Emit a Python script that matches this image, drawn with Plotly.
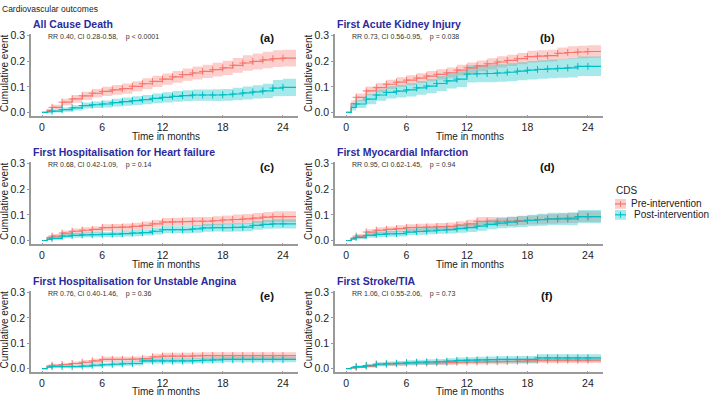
import plotly.graph_objects as go

W, H = 709, 398

time = [0, 0.5, 1, 2, 3, 4, 5, 6, 7, 8, 9, 10, 11, 12, 13, 14, 15, 16, 17, 18, 19, 20, 21, 22, 23, 24, 25.3]

panel_titles = ["All Cause Death", "First Acute Kidney Injury", "First Hospitalisation for Heart failure",
                "First Myocardial Infarction", "First Hospitalisation for Unstable Angina", "First Stroke/TIA"]
panel_tags = ["(a)", "(b)", "(c)", "(d)", "(e)", "(f)"]
panel_stats = ["RR 0.40, CI 0.28-0.58,    p < 0.0001", "RR 0.73, CI 0.56-0.95,    p = 0.038",
               "RR 0.68, CI 0.42-1.09,    p = 0.14", "RR 0.95, CI 0.62-1.45,    p = 0.94",
               "RR 0.76, CI 0.40-1.46,    p = 0.36", "RR 1.06, CI 0.55-2.06,    p = 0.73"]

a_pre = [0, 0.008, 0.02, 0.04, 0.053, 0.065, 0.075, 0.082, 0.088, 0.093, 0.102, 0.112, 0.121, 0.13, 0.139, 0.148, 0.154, 0.16, 0.167, 0.174, 0.184, 0.193, 0.199, 0.205, 0.21, 0.212, 0.212]
a_pre_ci = [0, 0.006, 0.01, 0.013, 0.015, 0.016, 0.017, 0.018, 0.019, 0.02, 0.02, 0.021, 0.022, 0.022, 0.023, 0.024, 0.025, 0.026, 0.027, 0.028, 0.029, 0.03, 0.031, 0.032, 0.033, 0.033, 0.033]
a_post = [0, 0.002, 0.005, 0.011, 0.018, 0.027, 0.03, 0.033, 0.038, 0.042, 0.046, 0.05, 0.055, 0.059, 0.063, 0.066, 0.068, 0.068, 0.068, 0.069, 0.072, 0.076, 0.08, 0.084, 0.095, 0.098, 0.098]
a_post_ci = [0, 0.003, 0.005, 0.008, 0.01, 0.012, 0.013, 0.014, 0.015, 0.016, 0.017, 0.018, 0.019, 0.02, 0.021, 0.021, 0.022, 0.022, 0.023, 0.023, 0.024, 0.025, 0.026, 0.028, 0.032, 0.034, 0.034]

b_pre = [0, 0.035, 0.059, 0.084, 0.097, 0.11, 0.118, 0.126, 0.134, 0.142, 0.149, 0.155, 0.165, 0.174, 0.182, 0.19, 0.197, 0.203, 0.21, 0.218, 0.22, 0.222, 0.231, 0.234, 0.236, 0.238, 0.238]
b_pre_ci = [0, 0.012, 0.015, 0.017, 0.018, 0.018, 0.019, 0.019, 0.019, 0.02, 0.02, 0.02, 0.021, 0.021, 0.021, 0.022, 0.022, 0.022, 0.022, 0.023, 0.023, 0.023, 0.023, 0.024, 0.024, 0.024, 0.024]
b_post = [0, 0.02, 0.033, 0.052, 0.068, 0.078, 0.083, 0.088, 0.096, 0.103, 0.113, 0.123, 0.13, 0.15, 0.151, 0.152, 0.154, 0.157, 0.161, 0.165, 0.168, 0.17, 0.172, 0.174, 0.18, 0.18, 0.18]
b_post_ci = [0, 0.012, 0.016, 0.02, 0.022, 0.024, 0.025, 0.026, 0.027, 0.028, 0.029, 0.03, 0.031, 0.033, 0.033, 0.034, 0.034, 0.035, 0.035, 0.036, 0.036, 0.037, 0.037, 0.038, 0.038, 0.038, 0.038]

c_pre = [0, 0.011, 0.017, 0.029, 0.036, 0.04, 0.043, 0.05, 0.051, 0.052, 0.055, 0.059, 0.065, 0.072, 0.073, 0.074, 0.075, 0.075, 0.077, 0.08, 0.082, 0.084, 0.087, 0.091, 0.093, 0.093, 0.093]
c_pre_ci = [0, 0.006, 0.008, 0.01, 0.011, 0.012, 0.012, 0.013, 0.013, 0.014, 0.014, 0.015, 0.015, 0.016, 0.016, 0.017, 0.017, 0.017, 0.018, 0.018, 0.019, 0.019, 0.02, 0.02, 0.021, 0.021, 0.021]
c_post = [0, 0.004, 0.008, 0.017, 0.02, 0.022, 0.023, 0.024, 0.025, 0.027, 0.029, 0.031, 0.036, 0.042, 0.042, 0.042, 0.045, 0.049, 0.05, 0.05, 0.051, 0.052, 0.059, 0.063, 0.065, 0.065, 0.065]
c_post_ci = [0, 0.004, 0.006, 0.008, 0.009, 0.009, 0.01, 0.01, 0.011, 0.011, 0.012, 0.012, 0.013, 0.014, 0.014, 0.014, 0.015, 0.015, 0.015, 0.016, 0.016, 0.016, 0.017, 0.017, 0.018, 0.018, 0.018]

d_pre = [0, 0.008, 0.017, 0.033, 0.04, 0.043, 0.046, 0.05, 0.051, 0.052, 0.054, 0.055, 0.06, 0.065, 0.075, 0.075, 0.075, 0.075, 0.078, 0.08, 0.082, 0.084, 0.086, 0.088, 0.093, 0.093, 0.093]
d_pre_ci = [0, 0.005, 0.008, 0.011, 0.012, 0.012, 0.013, 0.013, 0.014, 0.014, 0.014, 0.015, 0.015, 0.016, 0.017, 0.017, 0.017, 0.018, 0.018, 0.018, 0.019, 0.019, 0.019, 0.02, 0.021, 0.021, 0.021]
d_post = [0, 0.006, 0.012, 0.02, 0.024, 0.026, 0.027, 0.033, 0.035, 0.037, 0.04, 0.042, 0.046, 0.05, 0.056, 0.063, 0.068, 0.072, 0.075, 0.078, 0.081, 0.084, 0.084, 0.084, 0.093, 0.093, 0.093]
d_post_ci = [0, 0.004, 0.006, 0.009, 0.01, 0.011, 0.011, 0.012, 0.013, 0.013, 0.014, 0.015, 0.016, 0.017, 0.018, 0.019, 0.02, 0.021, 0.022, 0.022, 0.023, 0.024, 0.024, 0.025, 0.026, 0.026, 0.026]

e_pre = [0, 0.01, 0.013, 0.016, 0.02, 0.025, 0.03, 0.036, 0.036, 0.036, 0.037, 0.039, 0.046, 0.049, 0.049, 0.049, 0.05, 0.051, 0.051, 0.051, 0.051, 0.051, 0.051, 0.051, 0.051, 0.051, 0.051]
e_pre_ci = [0, 0.005, 0.006, 0.007, 0.008, 0.009, 0.01, 0.011, 0.011, 0.011, 0.011, 0.012, 0.013, 0.013, 0.013, 0.013, 0.013, 0.013, 0.013, 0.013, 0.013, 0.013, 0.013, 0.013, 0.013, 0.013, 0.013]
e_post = [0, 0.006, 0.008, 0.008, 0.008, 0.01, 0.013, 0.015, 0.017, 0.019, 0.02, 0.03, 0.03, 0.03, 0.03, 0.03, 0.031, 0.033, 0.034, 0.036, 0.036, 0.036, 0.036, 0.036, 0.036, 0.036, 0.036]
e_post_ci = [0, 0.004, 0.005, 0.005, 0.005, 0.006, 0.007, 0.007, 0.008, 0.008, 0.008, 0.01, 0.01, 0.01, 0.01, 0.01, 0.01, 0.011, 0.011, 0.011, 0.011, 0.011, 0.011, 0.011, 0.011, 0.011, 0.011]

f_pre = [0, 0.003, 0.005, 0.01, 0.017, 0.018, 0.019, 0.021, 0.022, 0.022, 0.023, 0.024, 0.025, 0.026, 0.026, 0.027, 0.027, 0.028, 0.029, 0.03, 0.033, 0.033, 0.033, 0.033, 0.033, 0.033, 0.033]
f_pre_ci = [0, 0.003, 0.004, 0.006, 0.007, 0.007, 0.008, 0.008, 0.008, 0.008, 0.009, 0.009, 0.009, 0.009, 0.009, 0.01, 0.01, 0.01, 0.01, 0.01, 0.011, 0.011, 0.011, 0.011, 0.011, 0.011, 0.011]
f_post = [0, 0.004, 0.008, 0.012, 0.017, 0.019, 0.021, 0.023, 0.025, 0.026, 0.027, 0.029, 0.032, 0.033, 0.034, 0.035, 0.036, 0.036, 0.036, 0.036, 0.042, 0.042, 0.042, 0.042, 0.042, 0.042, 0.042]
f_post_ci = [0, 0.004, 0.005, 0.007, 0.008, 0.009, 0.009, 0.01, 0.01, 0.011, 0.011, 0.012, 0.012, 0.012, 0.013, 0.013, 0.013, 0.013, 0.014, 0.014, 0.015, 0.015, 0.015, 0.015, 0.015, 0.015, 0.015]

pre_series = [(a_pre, a_pre_ci), (b_pre, b_pre_ci), (c_pre, c_pre_ci), (d_pre, d_pre_ci), (e_pre, e_pre_ci), (f_pre, f_pre_ci)]
post_series = [(a_post, a_post_ci), (b_post, b_post_ci), (c_post, c_post_ci), (d_post, d_post_ci), (e_post, e_post_ci), (f_post, f_post_ci)]

x_ticks = [0, 6, 12, 18, 24]
y_ticks = [0.0, 0.1, 0.2, 0.3]
y_tick_labels = ["0.0", "0.1", "0.2", "0.3"]

RED, RED_F = "#F8766D", "rgba(248,118,109,0.35)"
TEAL, TEAL_F = "#00BFC4", "rgba(0,191,196,0.35)"
FONT = "Liberation Sans, Arial, sans-serif"
TITLE_C = "#2B2B9C"

# layout geometry (pixels)
col_x = [(31, 298), (335, 603)]
row_y = [(30, 114), (160, 244), (291, 374)]
xtitle_gap = [20.5, 20.5, 19.5]

def px(x):
    return x / W

def py(y):
    return 1 - y / H

fig = go.Figure()
layout = dict(width=W, height=H, margin=dict(l=0, r=0, t=0, b=0),
              paper_bgcolor="white", plot_bgcolor="white", showlegend=False,
              font=dict(family=FONT, color="#222"))
annotations = []
shapes = []

for i in range(6):
    r, c = i // 2, i % 2
    xa = "x" if i == 0 else f"x{i+1}"
    ya = "y" if i == 0 else f"y{i+1}"
    for ser, col, fcol in [(pre_series[i], RED, RED_F), (post_series[i], TEAL, TEAL_F)]:
        vals, ci = ser
        lo = [max(v - e, 0) for v, e in zip(vals, ci)]
        hi = [v + e for v, e in zip(vals, ci)]
        fig.add_trace(go.Scatter(x=time, y=lo, mode="lines", line=dict(width=0, shape="hv"),
                                 xaxis=xa, yaxis=ya, hoverinfo="skip"))
        fig.add_trace(go.Scatter(x=time, y=hi, mode="lines", line=dict(width=0, shape="hv"),
                                 fill="tonexty", fillcolor=fcol, xaxis=xa, yaxis=ya, hoverinfo="skip"))
    for ser, col in [(pre_series[i], RED), (post_series[i], TEAL)]:
        vals, ci = ser
        fig.add_trace(go.Scatter(x=time, y=vals, mode="lines", line=dict(width=1.2, color=col, shape="hv"),
                                 xaxis=xa, yaxis=ya))
        fig.add_trace(go.Scatter(x=time[2:-1], y=vals[2:-1], mode="markers",
                                 marker=dict(symbol="cross-thin", size=5, line=dict(width=1, color=col)),
                                 xaxis=xa, yaxis=ya))
    x0, x1 = col_x[c]
    y0, y1 = row_y[r]
    axis_common = dict(showgrid=False, zeroline=False, showline=True, linecolor="#9a9a9a", linewidth=1.5,
                       tickcolor="#9a9a9a", tickwidth=1,
                       tickfont=dict(size=10.5, color="#222", family=FONT))
    layout["xaxis" if i == 0 else f"xaxis{i+1}"] = dict(domain=[px(x0), px(x1)], range=[-1.1, 25.5],
                                                        tickvals=x_ticks, anchor=ya, ticks="inside", ticklen=2,
                                                        **axis_common)
    layout["yaxis" if i == 0 else f"yaxis{i+1}"] = dict(domain=[py(y1), py(y0)], range=[-0.015, 0.308],
                                                        tickvals=y_ticks, ticktext=y_tick_labels, anchor=xa,
                                                        ticks="outside", ticklen=2, **axis_common)
    # panel title
    annotations.append(dict(text=f"<b>{panel_titles[i]}</b>", x=px(x0), y=py(y0 - 10), xref="paper", yref="paper",
                            xanchor="left", yanchor="middle", showarrow=False,
                            font=dict(size=10.5, color=TITLE_C, family=FONT)))
    # stats text
    annotations.append(dict(text=panel_stats[i], x=px(x0 + 15), y=py(y0 + 3), xref="paper", yref="paper",
                            xanchor="left", yanchor="middle", showarrow=False,
                            font=dict(size=7, color="#333", family=FONT)))
    # tag
    annotations.append(dict(text=f"<b>{panel_tags[i]}</b>", x=px(x1 - 31 if c == 0 else x1 - 56), y=py(y0 + 5),
                            xref="paper", yref="paper", xanchor="center", yanchor="middle", showarrow=False,
                            font=dict(size=11.5, color="#111", family=FONT)))
    # axis titles
    annotations.append(dict(text="Time in months", x=px((x0 + x1) / 2 + 1), y=py(y1 + xtitle_gap[r]),
                            xref="paper", yref="paper", xanchor="center", yanchor="middle", showarrow=False,
                            font=dict(size=10, color="#222", family=FONT)))
    annotations.append(dict(text="Cumulative event", x=px(x0 - 26), y=py((y0 + y1) / 2 - 1), xref="paper", yref="paper",
                            xanchor="center", yanchor="middle", showarrow=False, textangle=-90,
                            font=dict(size=10, color="#222", family=FONT)))

annotations.append(dict(text="Cardiovascular outcomes", x=0, y=py(5), xref="paper", yref="paper",
                        xanchor="left", yanchor="middle", showarrow=False,
                        font=dict(size=8.5, color="#222", family=FONT)))

# legend
annotations.append(dict(text="CDS", x=px(614), y=py(189), xref="paper", yref="paper", xanchor="left",
                        yanchor="middle", showarrow=False, font=dict(size=10, color="#222", family=FONT)))
for k, (lab, col, fcol, yy, xt) in enumerate([("Pre-intervention", RED, RED_F, 203, 629),
                                                ("Post-intervention", TEAL, TEAL_F, 214, 632)]):
    shapes.append(dict(type="rect", xref="paper", yref="paper", x0=px(615), x1=px(626), y0=py(yy + 5), y1=py(yy - 5),
                       fillcolor=fcol, line=dict(width=0)))
    shapes.append(dict(type="line", xref="paper", yref="paper", x0=px(615), x1=px(626), y0=py(yy), y1=py(yy),
                       line=dict(color=col, width=1.2)))
    shapes.append(dict(type="line", xref="paper", yref="paper", x0=px(620.5), x1=px(620.5), y0=py(yy - 3), y1=py(yy + 3),
                       line=dict(color=col, width=1)))
    annotations.append(dict(text=lab, x=px(xt), y=py(yy), xref="paper", yref="paper", xanchor="left",
                            yanchor="middle", showarrow=False, font=dict(size=10, color="#222", family=FONT)))

layout["annotations"] = annotations
layout["shapes"] = shapes
fig.update_layout(**layout)
fig.write_html("out.html")
